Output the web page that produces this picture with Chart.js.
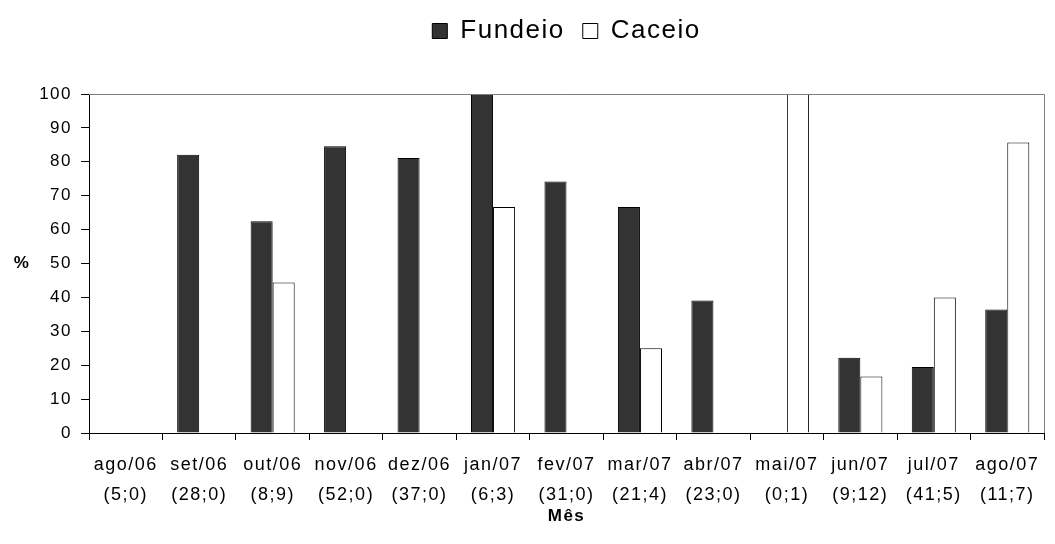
<!DOCTYPE html>
<html>
<head>
<meta charset="utf-8">
<script src="https://cdn.jsdelivr.net/npm/chart.js@4"></script>
<style>
  html, body { margin: 0; padding: 0; background: #fff; }
  #wrap { width: 1055px; height: 544px; }
</style>
</head>
<body>
<div id="wrap"><canvas id="chart"></canvas></div>
<script>
const months = ["ago/06", "set/06", "out/06", "nov/06", "dez/06", "jan/07", "fev/07", "mar/07", "abr/07", "mai/07", "jun/07", "jul/07", "ago/07"];
const counts = ["(5;0)", "(28;0)", "(8;9)", "(52;0)", "(37;0)", "(6;3)", "(31;0)", "(21;4)", "(23;0)", "(0;1)", "(9;12)", "(41;5)", "(11;7)"];
const fundeio = [0, 82.1, 62.5, 84.6, 81.1, 100, 74.2, 66.7, 39.1, 0, 22.2, 19.5, 36.4];
const caceio = [0, 0, 44.4, 0, 0, 66.7, 0, 25, 0, 100, 16.7, 40, 85.7];
const yTicks = [0, 10, 20, 30, 40, 50, 60, 70, 80, 90, 100];

const fontFamily = "'Liberation Sans', Arial, sans-serif";

// wider letters, the original text looks stretched
const spacingPlugin = {
  id: "spacing",
  beforeUpdate(chart) { chart.ctx.letterSpacing = "1.5px"; },
  beforeDraw(chart) { chart.ctx.letterSpacing = "1.5px"; },
};

// gray frame on top and right, plus the horizontal "%" title
const framePlugin = {
  id: "frame",
  afterDatasetsDraw(chart) {
    const { ctx, chartArea } = chart;
    ctx.save();
    ctx.strokeStyle = "#808080";
    ctx.lineWidth = 1;
    ctx.beginPath();
    ctx.moveTo(chartArea.left, chartArea.top + 0.5);
    ctx.lineTo(chartArea.right + 0.5, chartArea.top + 0.5);
    ctx.lineTo(chartArea.right + 0.5, chartArea.bottom);
    ctx.stroke();
    ctx.fillStyle = "#000";
    ctx.font = "bold 17px " + fontFamily;
    ctx.textAlign = "center";
    ctx.textBaseline = "middle";
    ctx.fillText("%", chartArea.left - 67, (chartArea.top + chartArea.bottom) / 2);
    ctx.restore();
  },
};

const ctx = document.getElementById("chart").getContext("2d");

const chart = new Chart(ctx, {
  type: "bar",
  data: {
    labels: months.map((m, i) => [m, counts[i]]),
    datasets: [
      {
        label: "Fundeio",
        data: fundeio,
        backgroundColor: "#333333",
        borderColor: "#000000",
        borderWidth: 1,
        categoryPercentage: 0.6,
        barPercentage: 1.0,
      },
      {
        label: "Caceio",
        data: caceio,
        backgroundColor: "#ffffff",
        borderColor: "#000000",
        borderWidth: 1,
        categoryPercentage: 0.6,
        barPercentage: 1.0,
      },
    ],
  },
  options: {
    responsive: true,
    maintainAspectRatio: false,
    animation: false,
    layout: { padding: { top: 0, left: 0, right: 11, bottom: 0 } },
    plugins: {
      legend: {
        position: "top",
        fullSize: false,
        labels: {
          color: "#000",
          font: { family: fontFamily, size: 26 },
          boxWidth: 15,
          boxHeight: 15,
          padding: 18,
        },
      },
      tooltip: { enabled: false },
    },
    scales: {
      x: {
        grid: {
          offset: true,
          drawOnChartArea: false,
          color: "#000",
          tickLength: 7,
        },
        border: { color: "#000", width: 1 },
        ticks: {
          color: "#000",
          font: { family: fontFamily, size: 18, lineHeight: 1.66 },
          padding: 10,
          maxRotation: 0,
          autoSkip: false,
        },
        title: {
          display: true,
          text: "Mês",
          color: "#000",
          font: { family: fontFamily, size: 17, weight: "bold" },
          padding: { top: 0, bottom: 17 },
        },
        afterFit(scale) { scale.height = 111; },
      },
      // empty spacer between legend and plot
      x2: {
        type: "category",
        position: "top",
        grid: { display: false },
        border: { display: false },
        ticks: { display: false },
        afterFit(scale) { scale.height = 40; },
      },
      y: {
        min: 0,
        max: 100,
        afterBuildTicks(scale) { scale.ticks = yTicks.map((v) => ({ value: v })); },
        grid: {
          drawOnChartArea: false,
          color: "#000",
          tickLength: 8,
        },
        border: { color: "#000", width: 1 },
        ticks: {
          color: "#000",
          font: { family: fontFamily, size: 17 },
          padding: 9,
        },
        afterFit(scale) { scale.width = 89; },
      },
    },
  },
  plugins: [spacingPlugin, framePlugin],
});
</script>
</body>
</html>
